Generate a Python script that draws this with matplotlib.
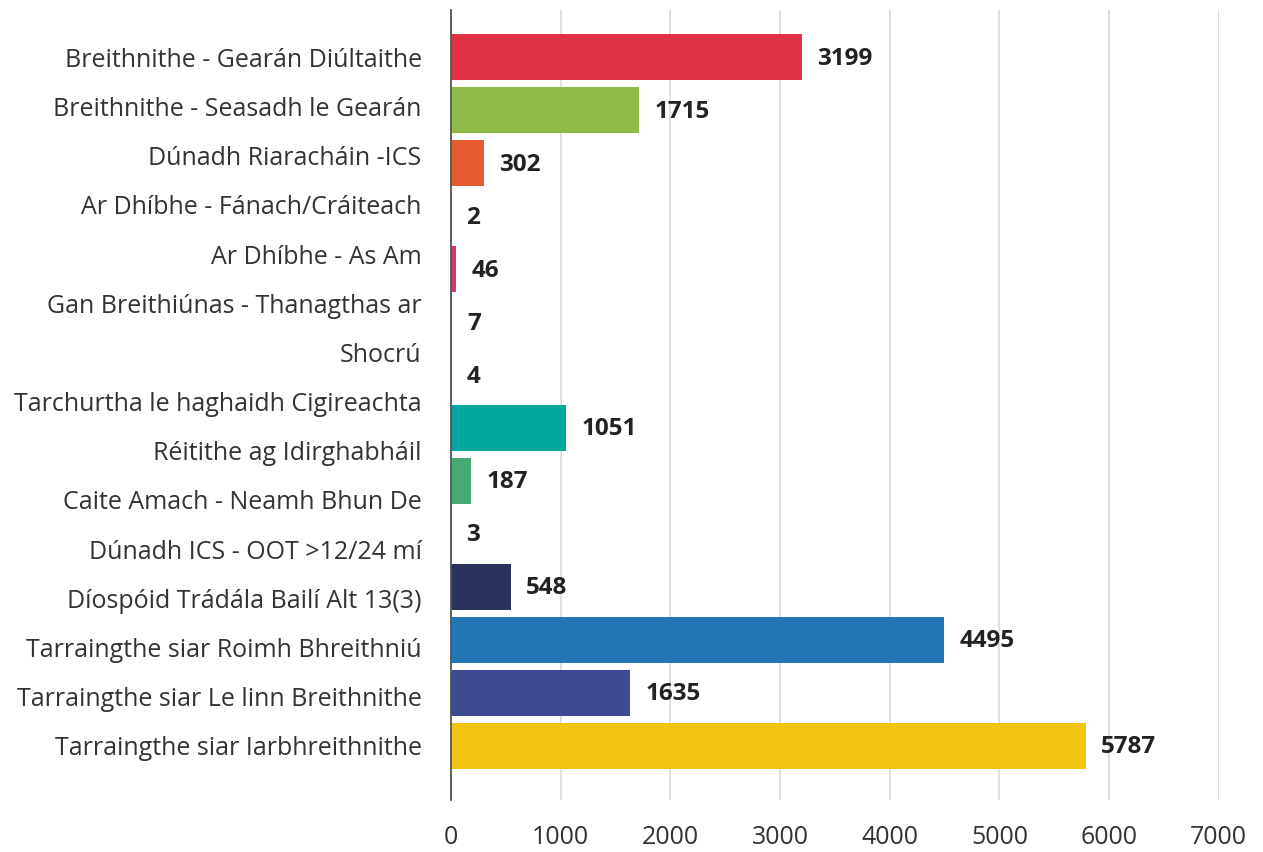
import matplotlib.pyplot as plt
import numpy as np

plt.rcParams['font.family'] = ['Open Sans', 'DejaVu Sans']

# Chart data
categories = [
    "Breithnithe - Gearán Diúltaithe",
    "Breithnithe - Seasadh le Gearán",
    "Dúnadh Riaracháin -ICS",
    "Ar Dhíbhe - Fánach/Cráiteach",
    "Ar Dhíbhe - As Am",
    "Gan Breithiúnas - Thanagthas ar Shocrú",
    "Tarchurtha le haghaidh Cigireachta",
    "Réitithe ag Idirghabháil",
    "Caite Amach - Neamh Bhun De",
    "Dúnadh ICS - OOT >12/24 mí",
    "Díospóid Trádála Bailí Alt 13(3)",
    "Tarraingthe siar Roimh Bhreithniú",
    "Tarraingthe siar Le linn Breithnithe",
    "Tarraingthe siar Iarbhreithnithe",
]
values = [3199, 1715, 302, 2, 46, 7, 4, 1051, 187, 3, 548, 4495, 1635, 5787]
colors = ["#e03244", "#8fba45", "#e65b30", "#9467bd", "#e0346e", "#f28e2b", "#7f7f7f",
          "#00a79d", "#46aa72", "#17becf", "#2a335c", "#2276b4", "#3d4a91", "#f2c610"]
x_ticks = [0, 1000, 2000, 3000, 4000, 5000, 6000, 7000]

fig = plt.figure(figsize=(12.63, 8.52), dpi=100)
ax = fig.add_axes([0.357, 0.061, 0.608, 0.927])

y = np.arange(len(categories))
ax.barh(y, values, height=0.87, color=colors, zorder=2)

# value labels just past the bar end
for yi, v in zip(y, values):
    ax.annotate(str(v), (v, yi), xytext=(11, -1), textcoords="offset points",
                va="center", ha="left", fontsize=17.5, fontweight="bold", color="#222222")

# the original spreads the label lines evenly, with the long one wrapped in two
label_lines = []
for c in categories:
    if c.startswith("Gan Breithiúnas"):
        label_lines += ["Gan Breithiúnas - Thanagthas ar", "Shocrú"]
    else:
        label_lines.append(c)
ax.set_yticks(np.linspace(0, len(categories) - 1, len(label_lines)))
ax.set_yticklabels(label_lines, fontsize=18, color="#333333")

ax.set_xlim(0, 7000)
ax.set_ylim(13 + 1.02, -0.887)
ax.set_xticks(x_ticks)
ax.set_xticklabels([str(t) for t in x_ticks], fontsize=18, color="#333333")
ax.tick_params(axis="y", length=0, pad=21)
ax.tick_params(axis="x", length=0, pad=18)

ax.grid(axis="x", color="#dddddd", linewidth=1.3, zorder=0)
for s in ["top", "right", "bottom"]:
    ax.spines[s].set_visible(False)
ax.spines["left"].set_color("#555555")
ax.spines["left"].set_linewidth(1.3)
ax.spines["left"].set_zorder(3)

fig.savefig("out.png", dpi=100)
